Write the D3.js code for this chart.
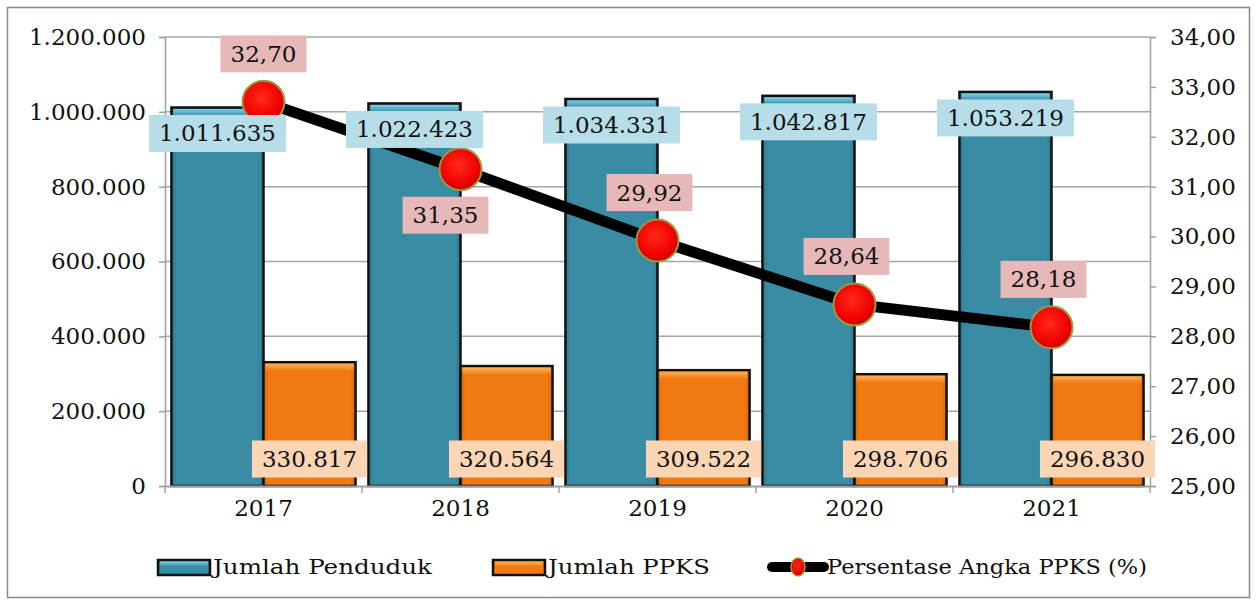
<!DOCTYPE html>
<html>
<head>
<meta charset="utf-8">
<script src="https://cdn.jsdelivr.net/npm/d3@7"></script>
<style>
  body { margin: 0; background: #fff; }
  svg text { font-family: "DejaVu Serif", serif; fill: #111; }
</style>
</head>
<body>
<div id="chart-container"></div>
<script>
// data
const years = ["2017", "2018", "2019", "2020", "2021"];
const penduduk = [1011635, 1022423, 1034331, 1042817, 1053219];
const ppks = [330817, 320564, 309522, 298706, 296830];
const persen = [32.70, 31.35, 29.92, 28.64, 28.18];
const leftTicks = [0, 200000, 400000, 600000, 800000, 1000000, 1200000];
const rightTicks = [25, 26, 27, 28, 29, 30, 31, 32, 33, 34];
const seriesNames = ["Jumlah Penduduk", "Jumlah PPKS", "Persentase Angka PPKS (%)"];

const W = 1257, H = 600;
const plot = { left: 165, right: 1150, top: 37, bottom: 486 };
const fontSize = "23px";

const fmtInt = (d) => d3.format(",")(d).replace(/,/g, ".");
const fmtDec = (d) => d.toFixed(2).replace(".", ",");

const svg = d3.select("#chart-container").append("svg")
  .attr("width", W).attr("height", H);

// gradients
const defs = svg.append("defs");
const redGrad = defs.append("radialGradient").attr("id", "redDot")
  .attr("cx", "45%").attr("cy", "40%").attr("r", "60%");
redGrad.append("stop").attr("offset", "0%").attr("stop-color", "#ff2a1a");
redGrad.append("stop").attr("offset", "75%").attr("stop-color", "#f20000");
redGrad.append("stop").attr("offset", "100%").attr("stop-color", "#c40000");

function barGrad(id, light, base, dark) {
  const g = defs.append("linearGradient").attr("id", id)
    .attr("x1", 0).attr("x2", 1).attr("y1", 0).attr("y2", 0);
  g.append("stop").attr("offset", "0%").attr("stop-color", dark);
  g.append("stop").attr("offset", "6%").attr("stop-color", base);
  g.append("stop").attr("offset", "94%").attr("stop-color", base);
  g.append("stop").attr("offset", "100%").attr("stop-color", dark);
  const t = defs.append("linearGradient").attr("id", id + "Top")
    .attr("x1", 0).attr("x2", 0).attr("y1", 0).attr("y2", 1);
  t.append("stop").attr("offset", "0%").attr("stop-color", light);
  t.append("stop").attr("offset", "100%").attr("stop-color", base);
}
barGrad("teal", "#7fd0e6", "#3a8ca5", "#2f7890");
barGrad("orange", "#ffb35a", "#f27a12", "#d9690c");

// outer border
svg.append("rect")
  .attr("x", 7.5).attr("y", 7.5).attr("width", W - 15).attr("height", H - 10)
  .attr("fill", "none").attr("stroke", "#8a8a8a").attr("stroke-width", 1.5);

// scales
const x0 = d3.scaleBand().domain(years).range([plot.left, plot.right]).padding(0);
const x1 = d3.scaleBand().domain(["pend", "ppks"]).range([0, x0.bandwidth()])
  .paddingInner(0).paddingOuter(0.07);
const yL = d3.scaleLinear().domain([0, 1200000]).range([plot.bottom, plot.top]);
const yR = d3.scaleLinear().domain([25, 34]).range([plot.bottom, plot.top]);

// horizontal gridlines
svg.append("g").selectAll("line")
  .data(leftTicks.slice(1))
  .join("line")
  .attr("x1", plot.left).attr("x2", plot.right)
  .attr("y1", (d) => yL(d)).attr("y2", (d) => yL(d))
  .attr("stroke", "#a6a6a6").attr("stroke-width", 1.5);

// left axis
const yAxisL = d3.axisLeft(yL).tickValues(leftTicks).tickFormat(fmtInt)
  .tickSize(6).tickPadding(13);
svg.append("g")
  .attr("transform", `translate(${plot.left},0)`)
  .call(yAxisL)
  .call((g) => g.select(".domain").attr("stroke", "#a0a0a0").attr("stroke-width", 1.5))
  .call((g) => g.selectAll(".tick line").attr("stroke", "#a0a0a0").attr("stroke-width", 1.5))
  .selectAll(".tick text")
  .style("font-size", fontSize).style("font-family", "DejaVu Serif").attr("fill", "#111");

// right axis
const yAxisR = d3.axisRight(yR).tickValues(rightTicks).tickFormat(fmtDec)
  .tickSize(6).tickPadding(14);
svg.append("g")
  .attr("transform", `translate(${plot.right},0)`)
  .call(yAxisR)
  .call((g) => g.select(".domain").attr("stroke", "#a0a0a0").attr("stroke-width", 1.5))
  .call((g) => g.selectAll(".tick line").attr("stroke", "#a0a0a0").attr("stroke-width", 1.5))
  .selectAll(".tick text")
  .style("font-size", fontSize).style("font-family", "DejaVu Serif").attr("fill", "#111");

// bars
const groups = svg.append("g").selectAll("g")
  .data(years.map((y, i) => ({ year: y, pend: penduduk[i], ppks: ppks[i] })))
  .join("g")
  .attr("transform", (d) => `translate(${x0(d.year)},0)`);

function drawBar(key, grad) {
  groups.append("rect")
    .attr("x", x1(key)).attr("width", x1.bandwidth())
    .attr("y", (d) => yL(d[key])).attr("height", (d) => plot.bottom - yL(d[key]))
    .attr("fill", `url(#${grad})`)
    .attr("stroke", "#111").attr("stroke-width", 2.5);
  groups.append("rect")
    .attr("x", x1(key) + 2).attr("width", x1.bandwidth() - 4)
    .attr("y", (d) => yL(d[key]) + 1.5).attr("height", 7)
    .attr("fill", `url(#${grad}Top)`);
}
drawBar("pend", "teal");
drawBar("ppks", "orange");

// x axis
const xAxis = d3.axisBottom(x0).tickSize(0).tickPadding(14);
const xg = svg.append("g")
  .attr("transform", `translate(0,${plot.bottom})`)
  .call(xAxis);
xg.select(".domain").attr("stroke", "#a0a0a0").attr("stroke-width", 2);
xg.selectAll(".tick text").style("font-size", fontSize).style("font-family", "DejaVu Serif")
  .attr("fill", "#111");
// category boundary ticks
svg.append("g").selectAll("line")
  .data(years.concat(["end"]))
  .join("line")
  .attr("x1", (d) => (d === "end" ? plot.right : x0(d)))
  .attr("x2", (d) => (d === "end" ? plot.right : x0(d)))
  .attr("y1", plot.bottom).attr("y2", plot.bottom + 7)
  .attr("stroke", "#a0a0a0").attr("stroke-width", 1.5);

// line series
const cx = (i) => x0(years[i]) + x0.bandwidth() / 2;
const line = d3.line().x((d, i) => cx(i)).y((d) => yR(d));
svg.append("path")
  .datum(persen)
  .attr("fill", "none").attr("stroke", "#000").attr("stroke-width", 11)
  .attr("d", line);

svg.append("g").selectAll("circle")
  .data(persen)
  .join("circle")
  .attr("cx", (d, i) => cx(i)).attr("cy", (d) => yR(d)).attr("r", 21)
  .attr("fill", "url(#redDot)")
  .attr("stroke", "#9c9a3c").attr("stroke-width", 2);

// data label helper
function label(g, txt, cxv, cyv, bg) {
  const t = g.append("text")
    .attr("x", cxv).attr("y", cyv)
    .attr("text-anchor", "middle").attr("dominant-baseline", "central")
    .style("font-size", fontSize)
    .text(txt);
  const b = t.node().getBBox();
  g.insert("rect", "text")
    .attr("x", b.x - 10).attr("y", cyv - 18.5)
    .attr("width", b.width + 20).attr("height", 37)
    .attr("fill", bg);
}

const labels = svg.append("g");
penduduk.forEach((v, i) => {
  const g = labels.append("g");
  label(g, fmtInt(v), x0(years[i]) + x1("pend") + x1.bandwidth() / 2, yL(v) + 26, "#b7dee8");
});
ppks.forEach((v, i) => {
  const g = labels.append("g");
  label(g, fmtInt(v), x0(years[i]) + x1("ppks") + x1.bandwidth() / 2, plot.bottom - 27, "#fcd5b5");
});
persen.forEach((v, i) => {
  const g = labels.append("g");
  const below = i === 1;
  label(g, fmtDec(v), cx(i) - (i === 0 ? 0 : 8) - (below ? 7 : 0),
    yR(v) + (below ? 46 : -48), "#e6b9b8");
});

// legend
const leg = svg.append("g").attr("transform", "translate(0,567)");
function legendBox(xp, grad) {
  leg.append("rect").attr("x", xp).attr("y", -7).attr("width", 52).attr("height", 15)
    .attr("fill", `url(#${grad})`).attr("stroke", "#111").attr("stroke-width", 2.5);
  leg.append("rect").attr("x", xp + 2).attr("y", -5.5).attr("width", 48).attr("height", 5)
    .attr("fill", `url(#${grad}Top)`);
}
legendBox(158, "teal");
legendBox(493, "orange");
leg.append("line").attr("x1", 772).attr("x2", 824).attr("y1", 0).attr("y2", 0)
  .attr("stroke", "#000").attr("stroke-width", 10).attr("stroke-linecap", "round");
leg.append("ellipse").attr("cx", 798).attr("cy", 0).attr("rx", 7).attr("ry", 9)
  .attr("fill", "url(#redDot)").attr("stroke", "#9c9a3c").attr("stroke-width", 1.5);

const legendX = [213, 548, 827];
const legendW = [219, 162, 320];
seriesNames.forEach((n, i) => {
  leg.append("text").attr("x", legendX[i]).attr("y", 0)
    .attr("dominant-baseline", "central")
    .attr("textLength", legendW[i]).attr("lengthAdjust", "spacingAndGlyphs")
    .style("font-size", "21px")
    .text(n);
});
</script>
</body>
</html>
